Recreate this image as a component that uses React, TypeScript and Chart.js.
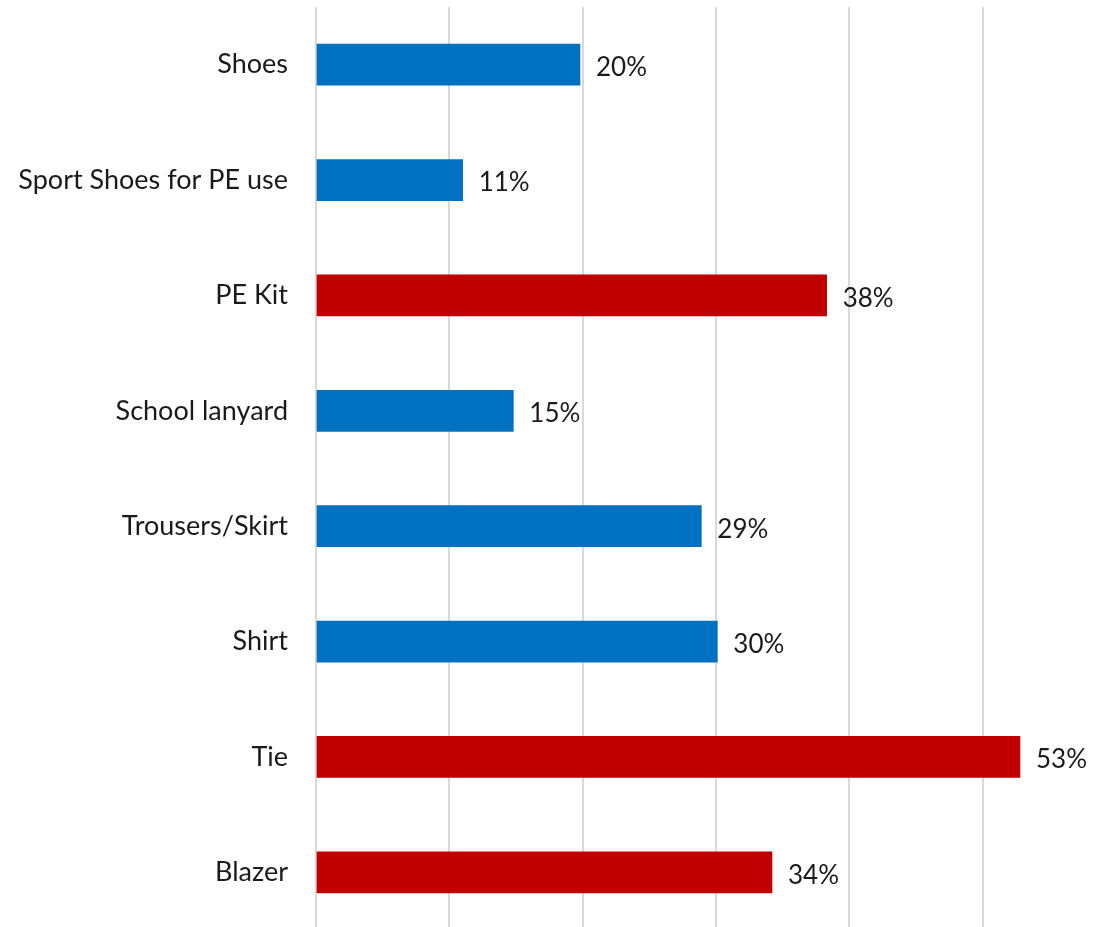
import React, { useEffect, useRef } from "react";
import { Chart, registerables } from "chart.js";

Chart.register(...registerables);

const categories = [
  "Shoes",
  "Sport Shoes for PE use",
  "PE Kit",
  "School lanyard",
  "Trousers/Skirt",
  "Shirt",
  "Tie",
  "Blazer",
];
const values = [0.198, 0.11, 0.383, 0.148, 0.289, 0.301, 0.528, 0.342];
const highlighted = [false, false, true, false, false, false, true, true];
const BLUE = "#0070C0";
const RED = "#C00000";

const valueLabels = {
  id: "valueLabels",
  afterDatasetsDraw(chart: any) {
    const { ctx } = chart;
    const meta = chart.getDatasetMeta(0);
    ctx.save();
    ctx.font = "26px Lato";
    ctx.fillStyle = "#1a1a1a";
    ctx.textAlign = "left";
    ctx.textBaseline = "middle";
    meta.data.forEach((bar: any, i: number) => {
      const v = values[i];
      ctx.fillText(Math.round(v * 100) + "%", bar.x + 16, bar.y + 3);
    });
    ctx.restore();
  },
};

export default function App() {
  const ref = useRef<HTMLCanvasElement>(null);
  useEffect(() => {
    if (!ref.current) return;
    const chart = new Chart(ref.current, {
      type: "bar",
      data: {
        labels: categories,
        datasets: [
          {
            data: values,
            backgroundColor: highlighted.map((h) => (h ? RED : BLUE)),
            barThickness: 41,
          },
        ],
      },
      options: {
        indexAxis: "y",
        animation: false,
        responsive: true,
        maintainAspectRatio: false,
        layout: { padding: { top: 7, right: 4, bottom: 5, left: 0 } },
        plugins: { legend: { display: false }, tooltip: { enabled: false } },
        scales: {
          x: {
            min: 0,
            max: 0.6,
            ticks: { display: false, stepSize: 0.1 },
            grid: { color: "#d9d9d9", lineWidth: 2, drawTicks: false },
            border: { display: false },
            afterFit: (s: any) => {
              s.height = 0;
              s.paddingLeft = 0;
              s.paddingRight = 0;
            },
          },
          y: {
            ticks: {
              font: { family: "Lato", size: 27 },
              color: "#1a1a1a",
              padding: 28,
            },
            grid: { display: false, drawTicks: false },
            border: { display: false },
            afterFit: (s: any) => {
              s.width = 316;
              s.paddingTop = 0;
              s.paddingBottom = 0;
            },
          },
        },
      },
      plugins: [valueLabels],
    });
    return () => chart.destroy();
  }, []);
  return (
    <div
      style={{
        position: "fixed",
        left: 0,
        top: 0,
        width: 1107,
        height: 927,
        overflow: "hidden",
        background: "#fff",
      }}
    >
      <div style={{ position: "relative", width: 1120, height: 935 }}>
        <canvas ref={ref} />
      </div>
    </div>
  );
}
